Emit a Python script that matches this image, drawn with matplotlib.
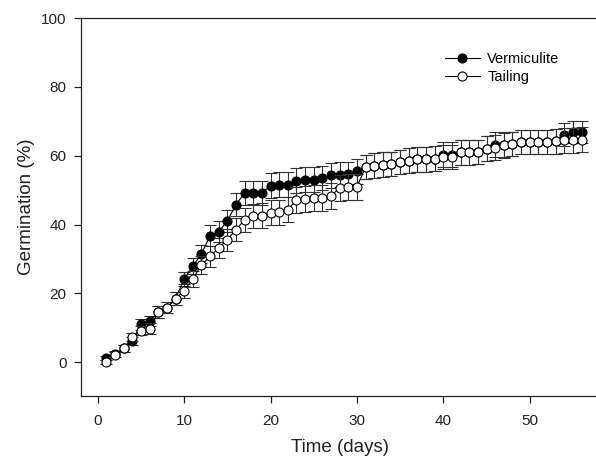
import matplotlib
matplotlib.use("Agg")
import matplotlib.pyplot as plt
import numpy as np

plt.rcParams['font.family'] = ['Liberation Sans', 'DejaVu Sans']

days = list(range(1, 57))

vermiculite = [1.3, 2.4, 4.0, 6.1, 11.0, 11.9, 14.6, 15.8, 18.5, 24.2,
               27.9, 31.5, 36.8, 37.9, 41.1, 45.8, 49.2, 49.2, 49.2, 51.3,
               51.6, 51.6, 52.7, 53.0, 53.0, 53.5, 54.3, 54.5, 54.7, 55.5,
               56.7, 57.1, 57.4, 57.6, 58.2, 58.6, 58.9, 58.9, 59.1, 60.3,
               60.3, 61.0, 61.0, 61.1, 62.0, 63.2, 63.2, 63.4, 64.0, 64.0,
               64.0, 64.0, 64.2, 66.1, 67.0, 67.0]
vermiculite_err = [0.6, 0.8, 1.0, 1.2, 1.5, 1.5, 1.6, 1.6, 1.8, 2.0,
                   2.3, 2.6, 3.0, 3.0, 3.2, 3.4, 3.5, 3.5, 3.5, 3.6,
                   3.6, 3.6, 3.6, 3.6, 3.6, 3.6, 3.6, 3.6, 3.6, 3.6,
                   3.6, 3.6, 3.6, 3.6, 3.6, 3.6, 3.6, 3.6, 3.6, 3.6,
                   3.6, 3.6, 3.6, 3.6, 3.6, 3.6, 3.6, 3.6, 3.6, 3.6,
                   3.6, 3.6, 3.6, 3.4, 3.2, 3.2]

tailing = [0.1, 2.2, 4.0, 7.3, 9.2, 9.8, 14.6, 15.8, 18.5, 20.8,
           24.3, 28.2, 30.8, 33.2, 35.6, 38.5, 41.4, 42.4, 42.6, 43.4,
           43.6, 44.3, 47.1, 47.5, 47.7, 47.7, 48.4, 50.6, 50.9, 50.9,
           56.7, 57.1, 57.4, 57.6, 58.2, 58.6, 58.9, 58.9, 59.1, 59.6,
           59.6, 61.0, 61.0, 61.1, 62.0, 62.3, 63.0, 63.4, 64.0, 64.0,
           64.0, 64.0, 64.2, 64.5, 64.5, 64.7]
tailing_err = [0.6, 0.8, 1.0, 1.2, 1.4, 1.5, 1.6, 1.6, 1.8, 2.0,
               2.3, 2.6, 3.0, 3.0, 3.2, 3.4, 3.5, 3.5, 3.6, 3.6,
               3.6, 3.6, 3.8, 3.8, 3.8, 3.8, 3.8, 3.8, 3.8, 3.8,
               3.6, 3.6, 3.6, 3.6, 3.6, 3.6, 3.6, 3.6, 3.6, 3.6,
               3.6, 3.6, 3.6, 3.6, 3.6, 3.6, 3.6, 3.6, 3.6, 3.6,
               3.6, 3.6, 3.6, 3.6, 3.6, 3.6]

xticks = [0, 10, 20, 30, 40, 50]
yticks = [0, 20, 40, 60, 80, 100]

fig = plt.figure(figsize=(5.96, 4.58), dpi=100)
ax = fig.add_axes([80.5 / 596, 62 / 458, (598.8 - 80.5) / 596, 378 / 458])

ax.errorbar(days, vermiculite, yerr=vermiculite_err, fmt='-o', color='black',
            ecolor='#333333', elinewidth=0.8, capsize=4, capthick=0.8,
            lw=0.8, ms=6.5, mfc='black', mec='black', mew=0.8,
            label='Vermiculite', zorder=2)
ax.errorbar(days, tailing, yerr=tailing_err, fmt='-o', color='black',
            ecolor='#333333', elinewidth=0.8, capsize=4, capthick=0.8,
            lw=0.8, ms=6.5, mfc='white', mec='black', mew=0.8,
            label='Tailing', zorder=3)

ax.set_xlim(-2, 58)
ax.set_ylim(-9.8, 100)
ax.set_xticks(xticks)
ax.set_yticks(yticks)
ax.spines['right'].set_visible(False)
for s in ['left', 'bottom', 'top']:
    ax.spines[s].set_linewidth(0.9)
    ax.spines[s].set_color('#222222')
ax.tick_params(direction='out', length=5, width=0.9, labelsize=11,
               colors='#222222')
ax.tick_params(axis='x', pad=8)
ax.tick_params(axis='y', pad=5)
ax.set_xlabel('Time (days)', fontsize=13.5, labelpad=8, color='#222222')
ax.set_ylabel('Germination (%)', fontsize=13.5, color='#222222')
ax.yaxis.set_label_coords(-0.088, 0.5)

handles, labels = ax.get_legend_handles_labels()
handles = [h[0] for h in handles]
leg = ax.legend(handles, labels, loc='upper left', bbox_to_anchor=(0.692, 0.925),
                frameon=False, fontsize=10.5, handlelength=2.4,
                handletextpad=0.5, labelspacing=0.25, borderaxespad=0)

fig.savefig('out.png', dpi=100)
